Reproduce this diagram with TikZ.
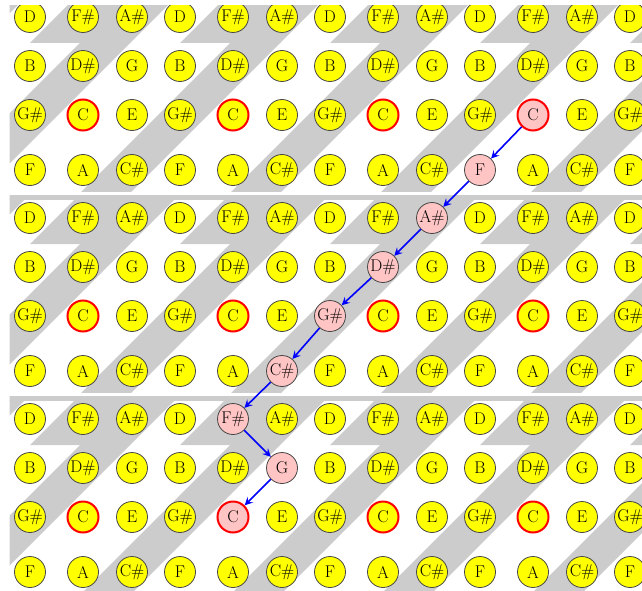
\documentclass[tikz,border=0pt]{standalone}
\usepackage{fontspec}
\usetikzlibrary{arrows.meta}
\definecolor{bandgray}{RGB}{204,204,204}
\definecolor{noteyellow}{RGB}{255,255,0}
\definecolor{notepink}{RGB}{255,196,196}
\definecolor{ringgray}{RGB}{70,70,70}
\definecolor{ringred}{RGB}{255,0,0}
\definecolor{pathblue}{RGB}{0,0,255}
\tikzset{
  notenode/.style={circle, minimum size=31pt, inner sep=0pt, font=\fontsize{17}{17}\selectfont},
  patharrow/.style={draw=pathblue, line width=1.6pt, -{Stealth[length=8pt,width=8pt,inset=3pt]}}
}
% path nodes (pink)
\expandafter\def\csname pk-2-10\endcsname{}
\expandafter\def\csname pk-3-9\endcsname{}
\expandafter\def\csname pk-4-8\endcsname{}
\expandafter\def\csname pk-5-7\endcsname{}
\expandafter\def\csname pk-6-6\endcsname{}
\expandafter\def\csname pk-7-5\endcsname{}
\expandafter\def\csname pk-8-4\endcsname{}
\expandafter\def\csname pk-9-5\endcsname{}
\expandafter\def\csname pk-10-4\endcsname{}
\begin{document}
\begin{tikzpicture}[x=1pt,y=-1pt]
\useasboundingbox (0,0) rectangle (642,591);
\begin{scope}
\clip (9.5,6) rectangle (642,591);
% background bands, one tile per 4 rows
\foreach \t in {0,1,2}{
  \pgfmathsetmacro\T{-6+201*\t}
  \fill[bandgray] (0,\T) rectangle (642,\T+4.5);
  \begin{scope}
    \clip (0,\T+4.5) rectangle (642,\T+49);
    \foreach \k in {-1,...,5}{
      \fill[bandgray] ({79+150*\k},\T) -- ({179+150*\k},\T) -- ({130+150*\k},\T+49) -- ({30+150*\k},\T+49) -- cycle;
    }
  \end{scope}
  \begin{scope}
    \clip (0,\T+49) rectangle (642,\T+197.5);
    \foreach \k in {-1,...,5}{
      \fill[bandgray] ({129+150*\k},\T) -- ({179+150*\k},\T) -- ({-21+150*\k},\T+200) -- ({-71+150*\k},\T+200) -- cycle;
    }
  \end{scope}
}
% note circles
\foreach \t in {0,1,2}{
  \foreach \r/\dy/\na/\nb/\nc in {0/0/D/F\#/A\#, 1/49/B/D\#/G, 2/98/G\#/C/E, 3/153/F/A/C\#}{
    \foreach \k in {0,...,4}{
      \foreach \j/\dx in {0/0, 1/53, 2/102}{
        \pgfmathtruncatemacro\row{4*\t+\r}
        \pgfmathtruncatemacro\col{3*\k+\j}
        \ifnum\col<13
          \def\fillc{noteyellow}\def\drawc{ringgray}\def\lw{0.8pt}
          \ifnum\r=2 \ifnum\j=1 \def\drawc{ringred}\def\lw{2pt}\fi\fi
          \ifcsname pk-\row-\col\endcsname \def\fillc{notepink}\fi
          \node[notenode, fill=\fillc, draw=\drawc, line width=\lw] (n\row-\col)
            at ({30+150*\k+\dx},{17+201*\t+\dy}) {\ifcase\j \na\or \nb\or \nc\fi};
        \fi
      }
    }
  }
}
% cycle-of-fourths path
\draw[patharrow] (n2-10) -- (n3-9);
\draw[patharrow] (n3-9) -- (n4-8);
\draw[patharrow] (n4-8) -- (n5-7);
\draw[patharrow] (n5-7) -- (n6-6);
\draw[patharrow] (n6-6) -- (n7-5);
\draw[patharrow] (n7-5) -- (n8-4);
\draw[patharrow] (n8-4) -- (n9-5);
\draw[patharrow] (n9-5) -- (n10-4);
\end{scope}
\end{tikzpicture}
\end{document}
